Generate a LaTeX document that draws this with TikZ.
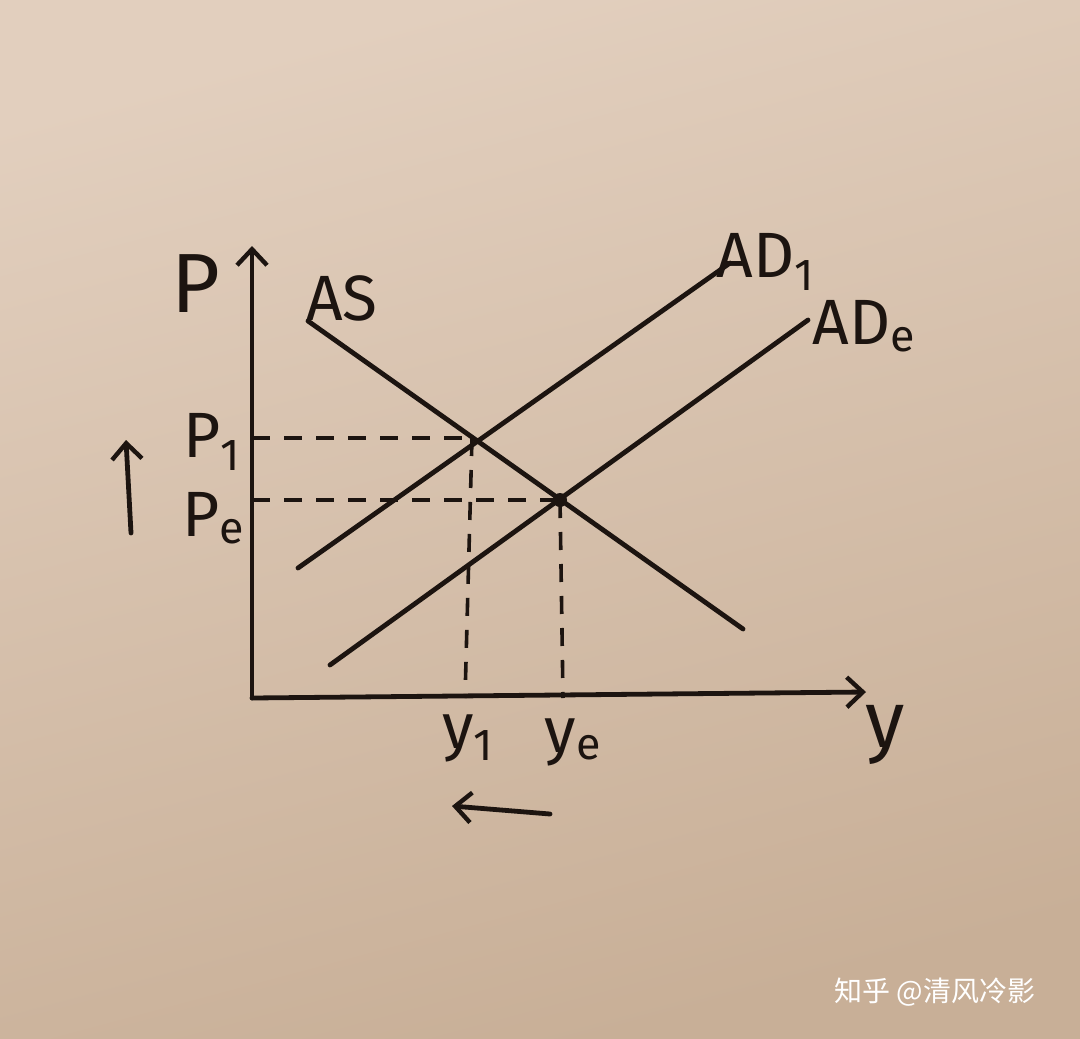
\documentclass[tikz,border=0pt]{standalone}
\usepackage{fontspec}
\setmainfont{Fira Sans}
\newfontfamily\cjk{Noto Sans CJK SC}
\usetikzlibrary{arrows.meta}
\definecolor{ink}{RGB}{28,20,16}
\definecolor{paperA}{RGB}{226,207,190}
\definecolor{paperB}{RGB}{200,175,151}
\tikzset{
  inkline/.style={draw=ink, line width=2.4pt, line cap=round},
  dashline/.style={draw=ink, line width=1.8pt, dash pattern=on 9pt off 7pt},
  barb/.style={-{Straight Barb[length=8pt,width=15pt,line width=2.2pt]}},
  lbl/.style={text=ink, inner sep=0pt, font=\fontsize{32}{32}\selectfont}
}
\begin{document}
\begin{tikzpicture}[x=0.5pt,y=-0.5pt]
\shade[top color=paperA, bottom color=paperB, shading angle=15] (0,0) rectangle (1080,1038);
\useasboundingbox (0,0) rectangle (1080,1038);
% axes
\coordinate (O) at (252,698);
\coordinate (ytop) at (252,246);
\coordinate (xend) at (866,692);
\draw[inkline, barb] (O) -- (ytop);
\draw[inkline, barb] (O) -- (xend);
% equilibrium points
\coordinate (E1) at (472,438);
\coordinate (Ee) at (560,500);
\coordinate (P1ax) at (252,438);
\coordinate (Peax) at (252,500);
\coordinate (Y1ax) at (465,698);
\coordinate (Yeax) at (563,698);
% curves
\coordinate (ASs) at (308,321);
\coordinate (ASe) at (743,629);
\coordinate (AD1s) at (298,568);
\coordinate (AD1e) at (730,263);
\coordinate (ADes) at (330,665);
\coordinate (ADee) at (808,320);
\draw[inkline] (ASs) -- (ASe);
\draw[inkline] (AD1s) -- (AD1e);
\draw[inkline] (ADes) -- (ADee);
% dashed guides
\draw[dashline] (P1ax) -- (E1);
\draw[dashline] (Peax) -- (Ee);
\draw[dashline] (E1) -- (Y1ax);
\draw[dashline] (Ee) -- (Yeax);
\fill[ink] (Ee) circle (3.5pt);
% labels
\node[lbl, font=\fontsize{42}{42}\selectfont] (Plab) at (196,284) {P};
\node[lbl] (P1lab) at (212,442) {P\textsubscript{1}};
\node[lbl] (Pelab) at (214,518) {P\textsubscript{e}};
\node[lbl, font=\fontsize{40}{40}\selectfont] (ylab) at (885,735) {y};
\node[lbl] (y1lab) at (468,738) {y\textsubscript{1}};
\node[lbl] (yelab) at (573,742) {y\textsubscript{e}};
\node[lbl] (ASlab) at (342,298) {AS};
\node[lbl] (AD1lab) at (766,262) {AD\textsubscript{1}};
\node[lbl] (ADelab) at (864,326) {AD\textsubscript{e}};
% direction arrows
\coordinate (ua1) at (131,533);
\coordinate (ua2) at (126,440);
\draw[inkline, barb] (ua1) -- (ua2);
\coordinate (la1) at (550,814);
\coordinate (la2) at (452,806);
\draw[inkline, barb] (la1) -- (la2);
% watermark
\node[text=white, inner sep=0pt, font=\cjk\fontsize{14}{14}\selectfont] (wm) at (935,992) {知乎 @清风冷影};
\end{tikzpicture}
\end{document}
